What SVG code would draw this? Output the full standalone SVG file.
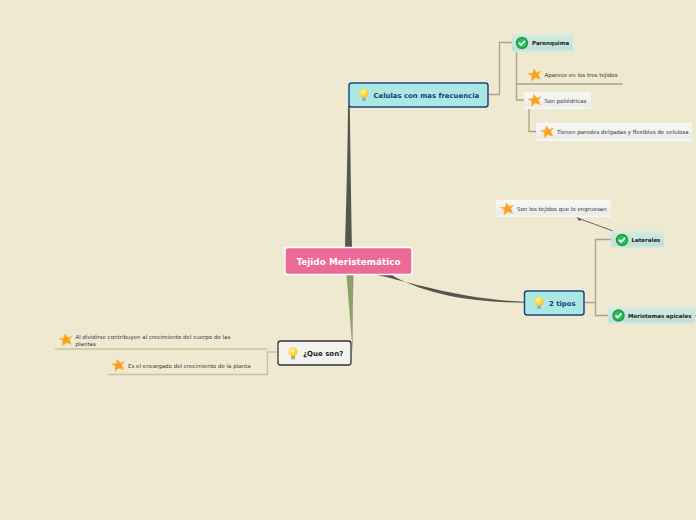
<svg xmlns="http://www.w3.org/2000/svg" width="696" height="520" viewBox="0 0 696 520">
<style>
text{font-family:"DejaVu Sans",sans-serif}
.c{fill:none;stroke-width:1.3}
.g{stroke:#a8a38e}
.o{stroke:#c4c6a0}
.m{fill:#abe8e3;stroke:#1d4785;stroke-width:1.5}
.mt{font-size:6.9px;font-weight:bold;fill:#143a7a}
.s{font-size:5.5px;fill:#3a3a3a}
.st{font-size:5.5px;font-weight:bold;fill:#222}
.gb{fill:url(#gr)}
.wb{fill:url(#wh)}
</style>
<defs>
<linearGradient id="gr" x1="0" y1="0" x2="0" y2="1"><stop offset="0" stop-color="#d6ecdf"/><stop offset=".8" stop-color="#bfe0da"/><stop offset="1" stop-color="#d5ece4"/></linearGradient>
<linearGradient id="wh" x1="0" y1="0" x2="0" y2="1"><stop offset="0" stop-color="#f8f8f6"/><stop offset=".85" stop-color="#ebebe8"/><stop offset="1" stop-color="#fbfbf8"/></linearGradient>
<radialGradient id="bulb" cx=".4" cy=".35" r=".7"><stop offset="0" stop-color="#fff9a0"/><stop offset="1" stop-color="#f7c600"/></radialGradient>
<g id="star"><path d="M0-6.200 1.900-2.100 6.400-2.600 3.200-.1 4.300 5 0 2.600-4.300 5-3.200-.1-6.400-2.600-1.900-2.100Z" fill="#fb9f1c" stroke="#fbb84a" stroke-width=".8" stroke-linejoin="round" transform="rotate(-10)"/></g>
<g id="check"><circle r="6.200" fill="#1f9f47"/><circle r="4.600" fill="#2fbd5c"/><path d="M-3-.2-1,2 3-2.200" fill="none" stroke="#fff" stroke-width="1.700"/></g>
<g id="idea"><circle cy="-2.300" r="4.500" fill="url(#bulb)"/><rect x="-2" y="2" width="4" height="3.300" fill="#a9a9a0"/></g>
</defs>
<rect width="696" height="520" fill="#efe9d2"/>
<g id="connectors">
<path d="M345 248C346.800 190 347.800 140 348 106L349.800 106C350.300 140 351 190 352 248Z" fill="#54574c"/>
<path d="M346.500 275C348.500 300 350.500 325 352.800 353C352.500 325 353 300 353.500 275Z" fill="#8f9f6b"/>
<path d="M377 275C410 282 460 299 524 301.800L524 302.800C470 302 430 295 395 277L392 275Z" fill="#54574c"/>
<path class="c g" d="M489 94.500H499.500V42.500H512"/>
<path class="c g" d="M516.500 52V84H622.500M516.500 84V100H524"/>
<path class="c g" d="M529 108V131.500H537"/>
<path class="c g" d="M611 239.500H595.500V315.500H608M585 302.500H595.500"/>
<path class="c g" d="M695 315.500H696"/>
<path d="M613 231 579 218.500" fill="none" stroke="#555" stroke-width=".9"/>
<path d="M581 219.500 577 217.500 579.500 221Z" fill="#555" stroke="#555" stroke-width=".5"/>
<path class="c o" d="M278 352H267.500V374.500H108M267.500 349H55"/>
</g>
<g id="root"><rect x="285" y="247.500" width="127" height="27" rx="2.500" fill="#eb6a98" stroke="#fff" stroke-width="1.500"/><text x="348.500" y="265" font-size="8.900" font-weight="bold" fill="#fff" text-anchor="middle">Tejido Meristemático</text></g>
<g id="n-celulas"><rect x="349" y="83" width="139" height="24" rx="2.500" class="m"/><use href="#idea" x="364" y="95.500"/><text x="373.500" y="98" class="mt">Celulas con mas frecuencia</text></g>
<g id="n-parenquima"><rect x="512" y="34" width="61" height="18" class="gb"/><use href="#check" x="522" y="43"/><text x="532" y="45" class="st">Parenquima</text></g>
<g id="n-aparece"><use href="#star" x="535" y="75"/><text x="544.500" y="77" class="s">Aparece en los tres tejidos</text></g>
<g id="n-son"><rect x="524" y="92" width="67" height="17" class="wb"/><use href="#star" x="535" y="100.500"/><text x="544.500" y="103" class="s">Son poliédricas</text></g>
<g id="n-tienen"><rect x="536" y="123" width="156" height="18" class="wb"/><use href="#star" x="547.500" y="132"/><text x="557" y="134" class="s">Tienen paredes delgadas y flexibles de celulosa</text></g>
<g id="n-engruesan"><rect x="496" y="200" width="115" height="17" class="wb"/><use href="#star" x="507.500" y="209"/><text x="517" y="211" class="s">Son los tejidos que lo engruesan</text></g>
<g id="n-laterales"><rect x="611" y="231" width="53" height="17" class="gb"/><use href="#check" x="622" y="240"/><text x="631.500" y="242" class="st">Laterales</text></g>
<g id="n-apicales"><rect x="608" y="307" width="87" height="17" class="gb"/><use href="#check" x="618.500" y="315.500"/><text x="628" y="318" class="st">Meristemas apicales</text></g>
<g id="n-tipos"><rect x="524.500" y="291" width="59.500" height="24" rx="2.500" class="m"/><use href="#idea" x="539" y="303.500"/><text x="549" y="305.500" class="mt">2 tipos</text></g>
<g id="n-queson"><rect x="278" y="341" width="73" height="24" rx="2.500" fill="#f3f3f0" stroke="#333" stroke-width="1.300"/><use href="#idea" x="293" y="354"/><text x="303" y="356" font-size="7" font-weight="bold" fill="#222">¿Que son?</text></g>
<g id="n-dividirse"><use href="#star" x="66" y="340"/><text x="75.500" y="339" class="s">Al dividirse contribuyen al crecimiento del cuerpo de las</text><text x="75.500" y="345.500" class="s">plantas</text></g>
<g id="n-encargado"><use href="#star" x="118.500" y="365.500"/><text x="128" y="368" class="s">Es el encargado del crecimiento de la planta</text></g>
</svg>
